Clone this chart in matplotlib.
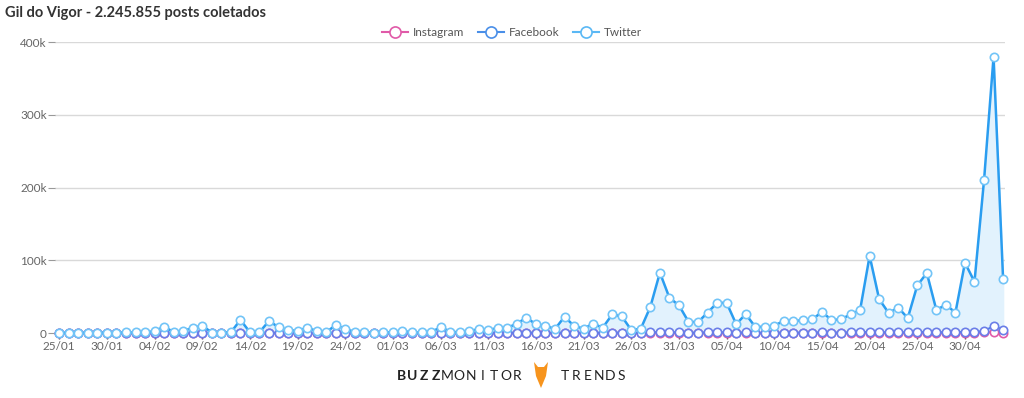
import matplotlib.pyplot as plt
import matplotlib.lines as mlines
from matplotlib.patches import Polygon
import pandas as pd

# contagem diaria de posts, 25/01 a 04/05
dias = pd.date_range('2021-01-25', periods=100)
twitter = [300, 400, 300, 500, 400, 600, 500, 700, 800, 1000,
           2500, 8700, 1200, 3000, 7000, 10000, 600, 500, 1000, 18000,
           1000, 1200, 16500, 8000, 4000, 3000, 7000, 3000, 1000, 11000,
           5500, 1500, 800, 600, 700, 1200, 3000, 800, 700, 1200,
           8000, 2000, 800, 3000, 5000, 4000, 7000, 7000, 13000, 21000,
           12000, 10000, 5500, 22500, 9600, 6000, 13000, 7300, 25500, 23000,
           4000, 6000, 36000, 83000, 48500, 38000, 15500, 15000, 28000, 41500,
           41500, 12200, 26000, 8500, 8500, 9800, 17000, 16000, 18000, 18800,
           29000, 17900, 18800, 25600, 31600, 106000, 46500, 27500, 35000, 20500,
           65500, 82500, 31600, 39000, 28000, 96600, 70500, 210000, 380000, 74000]
facebook = [100, 120, 110, 150, 130, 160, 150, 180, 200, 250,
            300, 400, 250, 300, 350, 400, 200, 200, 250, 500,
            250, 250, 450, 350, 300, 250, 300, 250, 200, 400,
            300, 200, 150, 150, 150, 200, 250, 150, 150, 200,
            350, 200, 150, 250, 300, 300, 350, 350, 450, 550,
            450, 400, 300, 600, 400, 300, 450, 350, 600, 550,
            300, 350, 700, 1200, 900, 800, 500, 500, 700, 900,
            900, 500, 700, 400, 400, 450, 600, 550, 600, 650,
            800, 600, 650, 750, 850, 1600, 1000, 800, 900, 700,
            1300, 1500, 900, 1000, 900, 1800, 1500, 2500, 9500, 4500]
instagram = [0, 0, 0, 10, 0, 10, 0, 10, 20, 20,
             30, 60, 20, 30, 50, 60, 10, 10, 20, 100,
             20, 20, 90, 50, 30, 30, 50, 30, 20, 70,
             40, 20, 10, 10, 10, 20, 30, 10, 10, 20,
             50, 20, 10, 30, 40, 30, 50, 50, 80, 120,
             80, 70, 40, 130, 60, 40, 80, 50, 150, 130,
             30, 40, 200, 400, 250, 200, 100, 100, 150, 220,
             220, 80, 150, 60, 60, 70, 100, 100, 110, 120,
             160, 110, 120, 150, 180, 500, 250, 160, 200, 130,
             350, 450, 180, 220, 170, 550, 400, 900, 1200, 600]
rotulos_x = [d.strftime('%d/%m') for d in dias[::5]]
valores_y = [0, 100000, 200000, 300000, 400000]
rotulos_y = ['0', '100k', '200k', '300k', '400k']

cor_tw = '#2a9df0'
cor_tw_mk = '#72c4f7'
cor_fb = '#4a7fe8'
cor_ig = '#e05aa8'

plt.rcParams['font.family'] = ['Lato', 'DejaVu Sans']

fig = plt.figure(figsize=(10.24, 3.98), dpi=100)
ax = fig.add_axes([55 / 1024, 1 - 333 / 398, 950 / 1024, (333 - 42.3) / 398])

x = list(range(len(dias)))
ax.fill_between(x, twitter, color='#e2f2fd', zorder=1)
ax.plot(x, instagram, color=cor_ig, lw=1.5, marker='o', ms=6, mfc='white',
        mec=cor_ig, mew=1.2, zorder=3, clip_on=False)
ax.plot(x, facebook, color=cor_fb, lw=1.5, marker='o', ms=6, mfc='white',
        mec='#6a7ee8', mew=1.2, zorder=4, clip_on=False)
ax.plot(x, twitter, color=cor_tw, lw=1.8, zorder=5, clip_on=False)
ax.plot(x, twitter, ls='none', marker='o', ms=6, mfc='white',
        mec=cor_tw_mk, mew=1.2, zorder=6, clip_on=False)

ax.set_xlim(-0.45, 99.2)
ax.set_ylim(0, 400000)
ax.set_xticks(x[::5])
ax.set_xticklabels(rotulos_x)
ax.set_yticks(valores_y)
ax.set_yticklabels(rotulos_y)
ax.tick_params(axis='x', length=4, width=1, color='#555555', labelcolor='#666666',
               labelsize=8.5, pad=2)
ax.tick_params(axis='y', length=5, width=0.8, color='#999999', labelcolor='#666666',
               labelsize=8.5, pad=1)
ax.grid(axis='y', color='#d9d9d9', lw=1)
ax.set_axisbelow(True)
for s in ax.spines.values():
    s.set_visible(False)

fig.text(5 / 1024, 1 - 13 / 398, 'Gil do Vigor - 2.245.855 posts coletados',
         fontsize=10.5, fontweight='bold', color='#333333', va='center', ha='left')

alcas = [mlines.Line2D([], [], color=c, lw=1.5, marker='o', ms=8, mfc='white', mec=c, mew=1.2)
         for c in [cor_ig, '#4a8fe8', '#5ab8f5']]
fig.legend(alcas, ['Instagram', 'Facebook', 'Twitter'], loc='center',
           bbox_to_anchor=(0.5, 1 - 33 / 398), ncol=3, frameon=False,
           fontsize=8.5, handlelength=2.2, handletextpad=0.4, columnspacing=1.2,
           labelcolor='#555555')

# marca no rodape
for i, ch in enumerate('BUZZMONITOR'):
    fig.text((401 + i * 11.6) / 1024, 1 - 376 / 398, ch, fontsize=10,
             fontweight='bold' if i < 4 else 'normal', color='#222222',
             ha='center', va='center')
for i, ch in enumerate('TRENDS'):
    fig.text((565 + i * 11.2) / 1024, 1 - 376 / 398, ch, fontsize=10,
             color='#222222', ha='center', va='center')
raposa = [(534, 362), (538, 367), (544, 367), (548, 362), (546, 376), (541, 388), (536, 376)]
fig.patches.append(Polygon([(px / 1024, 1 - py / 398) for px, py in raposa], closed=True,
                           transform=fig.transFigure, facecolor='#f7941d', edgecolor='none'))

fig.savefig('out.png', dpi=100)
